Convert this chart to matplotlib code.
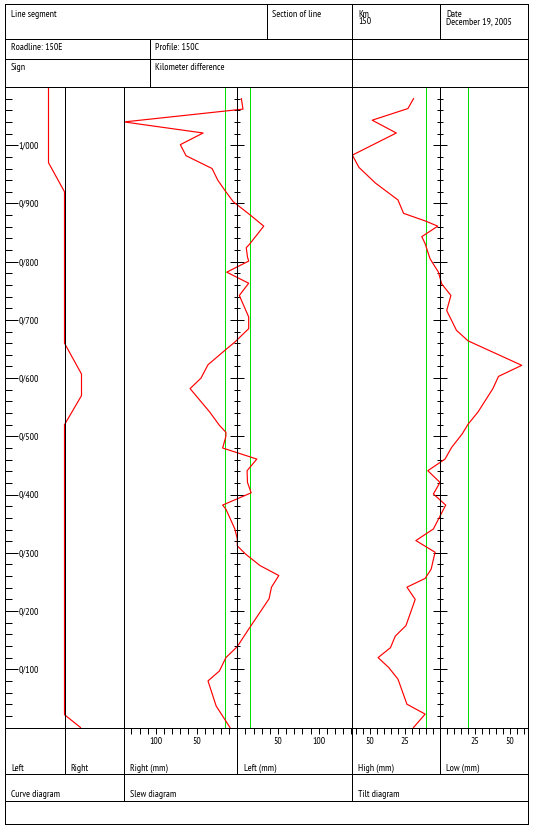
import numpy as np
import matplotlib
matplotlib.use("Agg")
import matplotlib.pyplot as plt
from matplotlib.lines import Line2D
import matplotlib.transforms as mtransforms

FAM = ['PT Sans Narrow', 'Archivo Narrow', 'DejaVu Sans']
plt.rcParams['font.family'] = FAM

# ---------------- data ----------------
# Curve diagram (chainage in m, curvature offset; + = right)
curve_km = [1100, 970, 920, 660, 607, 570, 520, 22, 0]
curve_val = [-16, -16, 0, 0, 17, 17, 0, 0, 16]

# Slew diagram (mm; negative = right side, positive = left side)
slew_km = [1080, 1062, 1040, 1021, 1001, 982, 960, 940, 920, 903, 880, 861, 830, 824,
           808, 801, 782, 763, 742, 705, 685, 662, 648, 623, 600, 582, 542, 519, 507,
           500, 480, 461, 441, 421, 403, 382, 375, 341, 324, 312, 298, 278, 261, 241,
           221, 169, 139, 120, 97, 80, 37, 0]
slew_mm = [5, 7, -139, -42, -70, -63, -31, -24, -14, -5, 16, 32.5, 15, 11,
           12.5, 14, -13, 14, 2.5, 14, 14, -3, -15, -36, -44.6, -58, -34, -22, -14,
           -14, -18, 24, 12, 12.5, 17, -18, -14, -3, 0, 0, 10, 28, 51, 42,
           39, 14, 0, -14, -22, -36, -26, -9]
slew_limits = [-15, 15]

# Tilt diagram (mm; negative = high, positive = low)
tilt_km = [1080, 1063, 1043, 1021, 983, 962, 935, 906, 883, 870, 861, 843, 831, 805,
           782, 762, 742, 716, 682, 664, 622, 603, 582, 542, 521, 504, 481, 461, 441,
           421, 401, 382, 341, 321, 301, 272, 256, 241, 220, 175, 157, 137, 120, 103,
           83, 40, 23, 0]
tilt_mm = [-18.7, -22.7, -48.2, -31, -62.4, -57.7, -45.9, -29.8, -25.8, -10.4, -1.4, -12.8, -10.4, -6.9,
           -0.9, 1.4, 8, 5, 12, 20.3, 58.6, 42, 38, 27.4, 20.3, 16, 8.5, 3.8, -8.5,
           0.2, -4.5, 4.3, -4.5, -17, -3.3, -6.1, -10.4, -23.4, -17.5, -24.1, -31.7, -35.2, -44, -36.4,
           -29.8, -23.4, -10.4, -18.7]
tilt_limits = [-10, 20]

km_ticks = [100, 200, 300, 400, 500, 600, 700, 800, 900, 1000]
km_labels = ['0/100', '0/200', '0/300', '0/400', '0/500', '0/600', '0/700', '0/800', '0/900', '1/000']
km_minor = [v for v in range(20, 1100, 20) if v % 100 != 0]

slew_tick_pos = [-100, -50, 50, 100]
slew_tick_lab = ['100', '50', '50', '100']
slew_tick_step = 10
tilt_tick_pos = [-50, -25, 25, 50]
tilt_tick_lab = ['50', '25', '25', '50']
tilt_tick_step = 5

header_texts = {
    'seg': 'Line segment', 'sec': 'Section of line', 'km': 'Km', 'kmv': '150',
    'date': 'Date', 'datev': 'December 19, 2005', 'road': 'Roadline: 150E',
    'prof': 'Profile: 150C', 'sign': 'Sign', 'kdiff': 'Kilometer difference',
}
footer_texts = {
    'left': 'Left', 'right': 'Right', 'rmm': 'Right (mm)', 'lmm': 'Left (mm)',
    'high': 'High (mm)', 'low': 'Low (mm)', 'curve': 'Curve diagram',
    'slew': 'Slew diagram', 'tilt': 'Tilt diagram',
}

# ---------------- layout (pixels) ----------------
W, H = 533, 829
fig = plt.figure(figsize=(W / 100, H / 100), dpi=100)
LW = 0.72
DLW = 0.85
FS = 7.0
RED = '#ff0000'
GREEN = '#00e000'

def fx(x):
    return x / W

def fy(y):
    return 1 - y / H

def hline(x0, x1, y):
    fig.add_artist(Line2D([fx(x0), fx(x1)], [fy(y), fy(y)], transform=fig.transFigure,
                          color='black', lw=LW, snap=True))

def vline(x, y0, y1):
    fig.add_artist(Line2D([fx(x), fx(x)], [fy(y0), fy(y1)], transform=fig.transFigure,
                          color='black', lw=LW, snap=True))

def txt(x, y, s):
    fig.text(fx(x), fy(y), s, ha='left', va='baseline', fontsize=FS, color='black')

XL, XR, YT, YB = 5, 527.5, 5, 825
R1, R2, PT, PB, F1, F2 = 40, 60, 88, 728.5, 774.5, 801.5
C_CURVE, C_SL, C_SC, C_TL, C_TC = 64.5, 123.5, 237.3, 352, 439.7

# frame
for y in [YT, R1, R2, PT, PB, F1, F2, YB]:
    hline(XL, XR, y)
vline(XL, YT, YB)
vline(XR, YT, YB)
# header dividers
vline(266.5, YT, R1)
vline(352, YT, PT)
vline(440, YT, R1)
vline(150, R1, PT)
# body + footer dividers
vline(C_CURVE, PT, F1)
vline(C_SL, PT, F2)
vline(C_SC, PT, F1)
vline(C_TL, PT, F2)
vline(C_TC, PT, F1)

# header texts
txt(11, 17, header_texts['seg'])
txt(272.5, 17, header_texts['sec'])
txt(358.5, 17, header_texts['km'])
txt(358.5, 24.5, header_texts['kmv'])
txt(446, 17, header_texts['date'])
txt(446, 24.5, header_texts['datev'])
txt(11, 49.5, header_texts['road'])
txt(155, 49.5, header_texts['prof'])
txt(11, 70, header_texts['sign'])
txt(155, 70, header_texts['kdiff'])
# footer texts
txt(11, 771, footer_texts['left'])
txt(70.5, 771, footer_texts['right'])
txt(129.5, 771, footer_texts['rmm'])
txt(244, 771, footer_texts['lmm'])
txt(358, 771, footer_texts['high'])
txt(446, 771, footer_texts['low'])
txt(11, 797.5, footer_texts['curve'])
txt(129.5, 797.5, footer_texts['slew'])
txt(358, 797.5, footer_texts['tilt'])

def add_ax(x0, x1):
    ax = fig.add_axes([fx(x0), fy(PB), (x1 - x0) / W, (PB - PT) / H])
    ax.set_ylim(0, 1100)
    for s in ax.spines.values():
        s.set_visible(False)
    ax.patch.set_alpha(0)
    return ax

# ---- curve diagram ----
axc = add_ax(XL, C_SL)
axc.set_xlim(XL - C_CURVE, C_SL - C_CURVE)
axc.plot(curve_val, curve_km, color=RED, lw=DLW, zorder=3)
axc.set_xticks([])
axc.set_yticks(km_ticks)
axc.set_yticks(km_minor, minor=True)
axc.tick_params(axis='y', which='major', direction='in', length=9.2, width=LW, labelleft=False)
axc.tick_params(axis='y', which='minor', direction='in', length=5.0, width=LW, labelleft=False)
trans = mtransforms.blended_transform_factory(fig.transFigure, axc.transData)
for k, lab in zip(km_ticks, km_labels):
    axc.text(fx(18.5), k, lab, transform=trans, ha='left', va='center', fontsize=FS)

def center_axis(ax):
    ax.plot(np.zeros(len(km_minor)), km_minor, ls='none', marker='_', ms=4.6,
            mew=LW, color='black', zorder=2)
    ax.plot(np.zeros(len(km_ticks)), km_ticks, ls='none', marker='_', ms=10.0,
            mew=LW, color='black', zorder=2)
    ax.set_yticks([])

def bottom_axis(ax, lo, hi, step, pos, labs):
    ax.set_xticks(pos)
    ax.set_xticklabels(labs)
    minor = [v for v in np.arange(lo, hi + 1, step) if v not in pos]
    ax.set_xticks(minor, minor=True)
    ax.tick_params(axis='x', which='both', direction='out', length=4.3, width=LW,
                   labelsize=FS, pad=2.0)

# ---- slew diagram ----
S_SCALE = 0.814
axs = add_ax(C_SL, C_TL)
axs.set_xlim((C_SL - C_SC) / S_SCALE, (C_TL - C_SC) / S_SCALE)
for g in slew_limits:
    axs.axvline(g, color=GREEN, lw=LW, zorder=1)
axs.plot(slew_mm, slew_km, color=RED, lw=DLW, zorder=3)
center_axis(axs)
bottom_axis(axs, -130, 140, slew_tick_step, slew_tick_pos, slew_tick_lab)

# ---- tilt diagram ----
T_SCALE = 1.40
axt = add_ax(C_TL, XR)
axt.set_xlim((C_TL - C_TC) / T_SCALE, (XR - C_TC) / T_SCALE)
for g in tilt_limits:
    axt.axvline(g, color=GREEN, lw=LW, zorder=1)
axt.plot(tilt_mm, tilt_km, color=RED, lw=DLW, zorder=3)
center_axis(axt)
bottom_axis(axt, -60, 60, tilt_tick_step, tilt_tick_pos, tilt_tick_lab)

fig.savefig('out.png', dpi=100)
